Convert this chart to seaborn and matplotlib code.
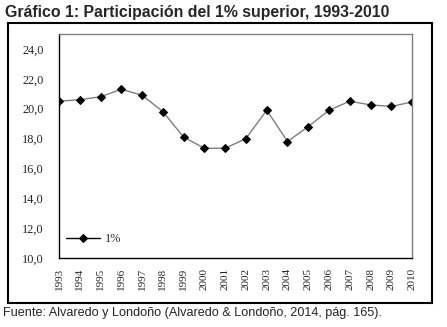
import matplotlib
matplotlib.use("Agg")
import matplotlib.pyplot as plt
from matplotlib.patches import Rectangle
import seaborn as sns
import pandas as pd

years = list(range(1993, 2011))
share = [20.5, 20.6, 20.8, 21.3, 20.9, 19.8, 18.1, 17.35, 17.35, 18.0,
         19.9, 17.8, 18.8, 19.9, 20.5, 20.25, 20.15, 20.45]
yticks = [10, 12, 14, 16, 18, 20, 22, 24]
ytick_labels = ["10,0", "12,0", "14,0", "16,0", "18,0", "20,0", "22,0", "24,0"]
series_name = "1%"
title = "Gráfico 1: Participación del 1% superior, 1993-2010"
source = "Fuente: Alvaredo y Londoño (Alvaredo & Londoño, 2014, pág. 165)."

df = pd.DataFrame({"year": years, "share": share, "serie": series_name})

sns.set_style("white")
plt.rcParams["font.family"] = ["Liberation Serif", "DejaVu Serif"]

fig = plt.figure(figsize=(4.47, 3.27), dpi=100)
ax = fig.add_axes([0.132, 0.211, 0.790, 0.685])

sns.lineplot(data=df, x="year", y="share", hue="serie", palette=["#7f7f7f"],
             marker="D", markersize=4.5, markerfacecolor="black",
             markeredgecolor="black", linewidth=1.0, ax=ax)

ax.set_xlim(1993, 2010)
ax.set_ylim(10, 25)
ax.set_xticks(years)
ax.set_xticklabels([str(y) for y in years], rotation=90, fontsize=8)
ax.set_yticks(yticks)
ax.set_yticklabels(ytick_labels, fontsize=8.8)
ax.set_xlabel("")
ax.set_ylabel("")
ax.tick_params(axis="x", direction="out", length=4, width=0.8, color="black", pad=3)
ax.tick_params(axis="y", length=0, pad=11)
for s in ["left", "bottom"]:
    ax.spines[s].set_color("black")
    ax.spines[s].set_linewidth(1.0)
for s in ["top", "right"]:
    ax.spines[s].set_color("#808080")
    ax.spines[s].set_linewidth(1.0)
for s in ax.spines.values():
    s.set_visible(True)
ax.grid(False)

leg = ax.legend(loc="center left", bbox_to_anchor=(0.02, 0.085), frameon=False,
                fontsize=8.8, handlelength=2.8, handletextpad=0.35,
                borderpad=0, borderaxespad=0)
for h in leg.legend_handles:
    h.set_color("black")
    h.set_markerfacecolor("black")

fig.patches.append(Rectangle((0.0179, 0.0734), 0.9485, 0.8563, transform=fig.transFigure,
                             fill=False, edgecolor="black", linewidth=1.5))

fig.text(0.011, 0.963, title, fontsize=11.4, fontweight="bold",
         family=["Liberation Sans", "DejaVu Sans"], ha="left", va="center")
fig.text(0.006, 0.043, source, fontsize=9.1,
         family=["Liberation Sans", "DejaVu Sans"], ha="left", va="center")

fig.savefig("out.png", dpi=100)
